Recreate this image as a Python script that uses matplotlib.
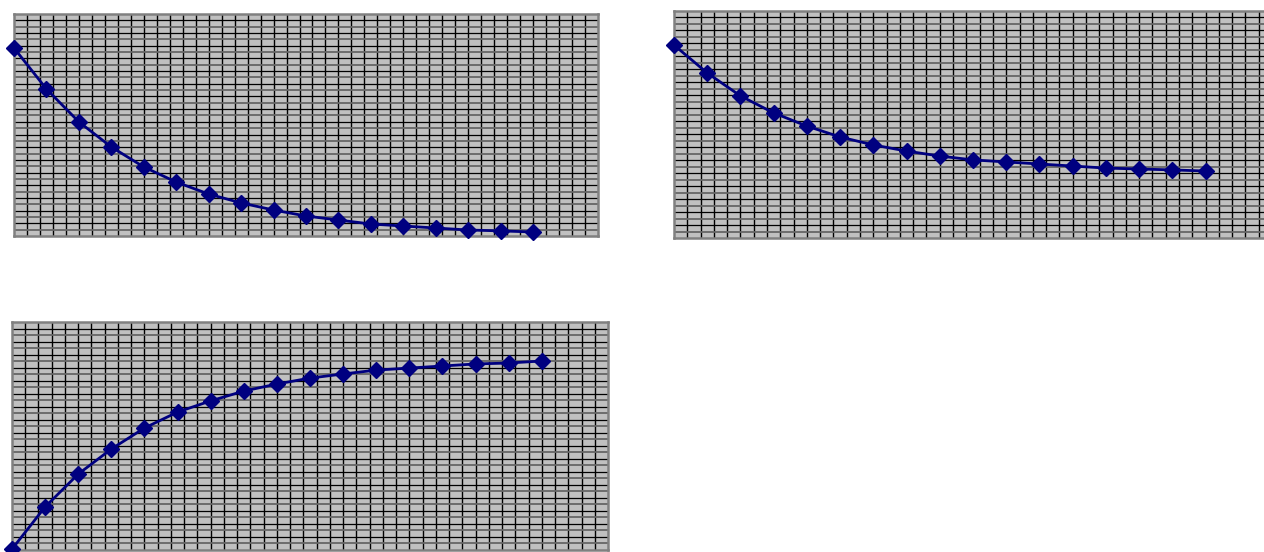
import numpy as np
import matplotlib.pyplot as plt

# --- Data (fraction of plot height) ---
steps = list(range(17))

decay_fast = [0.847, 0.662, 0.514, 0.401, 0.311, 0.243, 0.189, 0.149, 0.117,
              0.090, 0.072, 0.054, 0.045, 0.036, 0.027, 0.023, 0.018]
decay_slow = [0.850, 0.727, 0.626, 0.551, 0.493, 0.445, 0.410, 0.383, 0.361,
              0.344, 0.335, 0.326, 0.317, 0.308, 0.304, 0.300, 0.295]
growth = [0.004, 0.189, 0.333, 0.443, 0.535, 0.605, 0.654, 0.697, 0.728,
          0.754, 0.772, 0.789, 0.798, 0.807, 0.816, 0.820, 0.829]

# --- Style ---
BG = "#c0c0c0"
BORDER = "#808080"
LINE = "#000080"
X_MAX = 18
N_COLS = 45
N_ROWS = 35


def draw_panel(ax, values):
    ax.set_facecolor(BG)
    ax.set_xlim(0, X_MAX)
    ax.set_ylim(0, 1)

    # vertical grid lines (black)
    for xv in np.linspace(0, X_MAX, N_COLS + 1)[1:-1]:
        ax.axvline(xv, color="black", lw=1.0, zorder=1)
    # horizontal grid lines, alternating black / dark gray
    for i, yv in enumerate(np.linspace(0, 1, N_ROWS + 1)[1:-1]):
        if i % 2:
            ax.axhline(yv, color="black", lw=0.9, zorder=1)
        else:
            ax.axhline(yv, color="#666666", lw=1.3, zorder=1)

    ax.plot(steps, values, color=LINE, lw=2.0, marker="D", ms=8,
            mfc=LINE, mec=LINE, clip_on=False, zorder=3)

    ax.set_xticks([])
    ax.set_yticks([])
    for sp in ax.spines.values():
        sp.set_color(BORDER)
        sp.set_linewidth(1.8)


fig = plt.figure(figsize=(12.64, 5.52), dpi=100)

ax1 = fig.add_axes([14 / 1264, 316 / 552, 584 / 1264, 222 / 552])
ax2 = fig.add_axes([674 / 1264, 314 / 552, 598 / 1264, 227 / 552])
ax3 = fig.add_axes([12 / 1264, 2 / 552, 596 / 1264, 228 / 552])

draw_panel(ax1, decay_fast)
draw_panel(ax2, decay_slow)
draw_panel(ax3, growth)

fig.savefig("out.png", dpi=100)
